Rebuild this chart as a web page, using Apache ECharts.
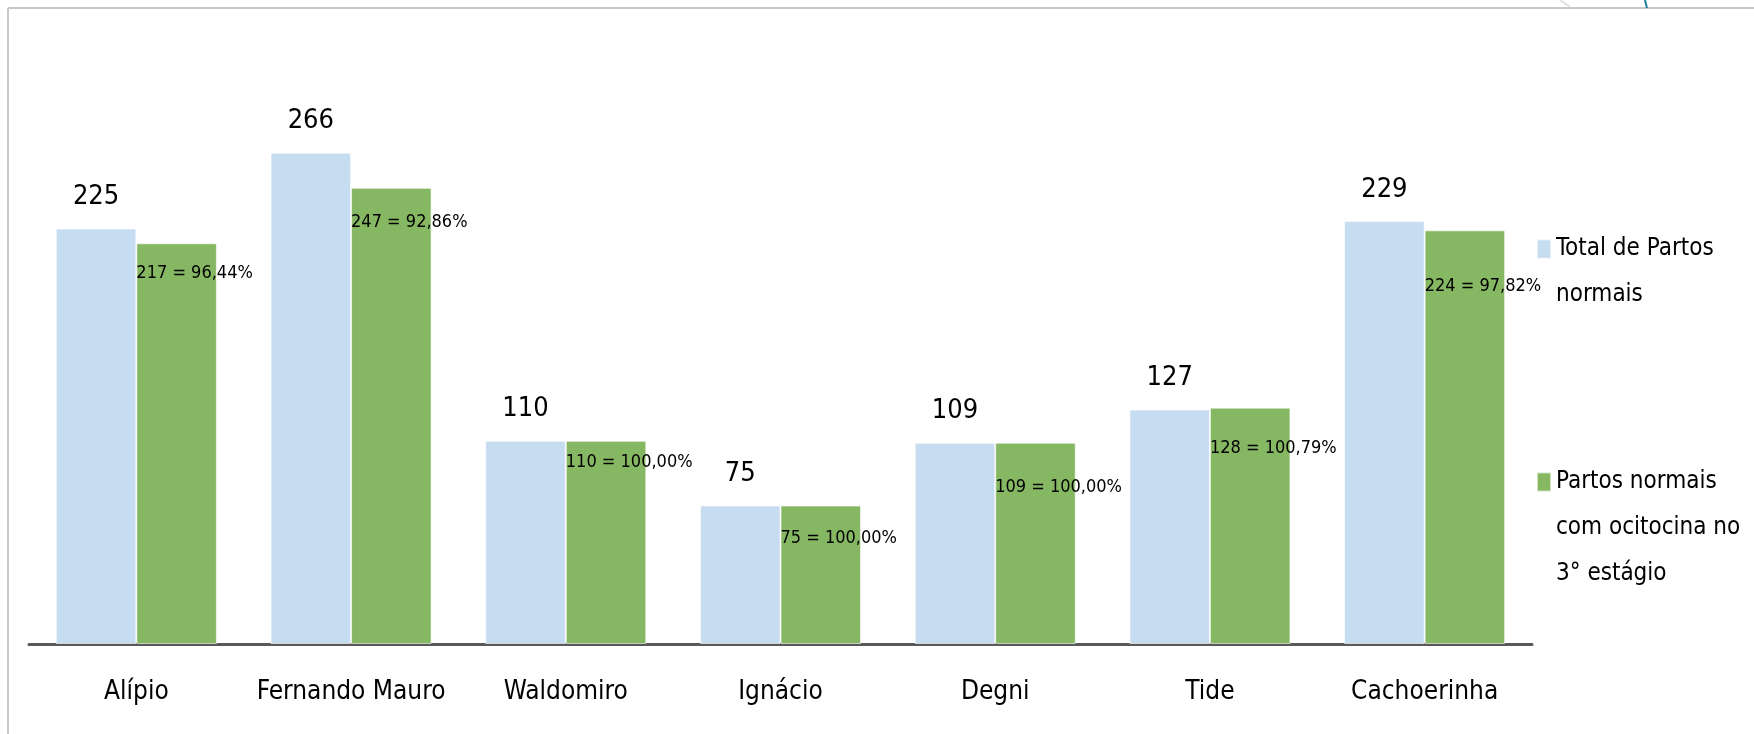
<!DOCTYPE html>
<html>
<head>
<meta charset="utf-8">
<style>
  html, body { margin: 0; padding: 0; background: #fff; }
  #chart { width: 1754px; height: 734px; }
</style>
<script src="https://cdn.jsdelivr.net/npm/echarts@6/dist/echarts.min.js"></script>
</head>
<body>
<div id="chart"></div>
<script>
// categories and series values
const units = ['Alípio', 'Fernando Mauro', 'Waldomiro', 'Ignácio', 'Degni', 'Tide', 'Cachoerinha'];
const totalNormais = [225, 266, 110, 75, 109, 127, 229];
const comOcitocina = [217, 247, 110, 75, 109, 128, 224];
const seriesNames = ['Total de Partos\nnormais', 'Partos normais\ncom ocitocina no\n3° estágio'];

// the green labels sit at slightly different depths inside each bar
const greenLabelDy = [30, 34, 21, 33, 45, 41, 56];

const font = '"DejaVu Sans Condensed", "Liberation Sans Narrow", sans-serif';

const chart = echarts.init(document.getElementById('chart'));

const greenData = comOcitocina.map((v, i) => ({
  value: v,
  label: { position: [0, greenLabelDy[i]] }
}));

chart.setOption({
  animation: false,
  textStyle: { fontFamily: font },
  grid: { left: 29, right: 222, top: 90, bottom: 90, outerBoundsMode: 'none' },
  legend: {
    orient: 'vertical',
    left: 1531,
    top: 175,
    itemWidth: 14,
    itemHeight: 19,
    itemGap: 49,
    icon: 'rect',
    textStyle: { fontSize: 24, lineHeight: 46, color: '#000', fontFamily: font },
    // blank lines on top keep the square level with the first line of text
    formatter: name => '\n'.repeat(name.split('\n').length - 1) + name,
    data: seriesNames
  },
  xAxis: {
    type: 'category',
    data: units,
    axisLine: { lineStyle: { color: '#595959', width: 3 } },
    axisTick: { show: false },
    axisLabel: { interval: 0, fontSize: 26, color: '#000', margin: 35, fontFamily: font }
  },
  yAxis: {
    type: 'value',
    min: 0,
    max: 300,
    show: false,
    splitLine: { show: false }
  },
  series: [
    {
      name: seriesNames[0],
      type: 'bar',
      data: totalNormais,
      barGap: '0%',
      barCategoryGap: '25%',
      itemStyle: { color: '#C6DCF0', borderColor: 'rgba(255,255,255,0.6)', borderWidth: 1 },
      label: {
        show: true,
        position: 'top',
        distance: 18,
        fontSize: 27,
        color: '#000',
        fontFamily: font
      }
    },
    {
      name: seriesNames[1],
      type: 'bar',
      data: greenData,
      itemStyle: { color: '#86B863', borderColor: 'rgba(255,255,255,0.6)', borderWidth: 1 },
      label: {
        show: true,
        align: 'left',
        verticalAlign: 'middle',
        fontSize: 18,
        color: '#000',
        fontFamily: font,
        formatter: p => {
          const pct = (p.value / totalNormais[p.dataIndex] * 100).toFixed(2).replace('.', ',');
          return p.value + ' = ' + pct + '%';
        }
      }
    }
  ],
  graphic: [
    { type: 'line', shape: { x1: 8, y1: 8, x2: 1754, y2: 8 }, style: { stroke: '#c8c8c8', lineWidth: 2 } },
    { type: 'line', shape: { x1: 8, y1: 8, x2: 8, y2: 734 }, style: { stroke: '#c8c8c8', lineWidth: 2 } },
    { type: 'line', shape: { x1: 1560, y1: 0, x2: 1570, y2: 7 }, style: { stroke: '#e0e0e0', lineWidth: 2 } },
    { type: 'line', shape: { x1: 1645, y1: 0, x2: 1647, y2: 8 }, style: { stroke: '#1f7f9f', lineWidth: 2 } }
  ]
});
</script>
</body>
</html>
